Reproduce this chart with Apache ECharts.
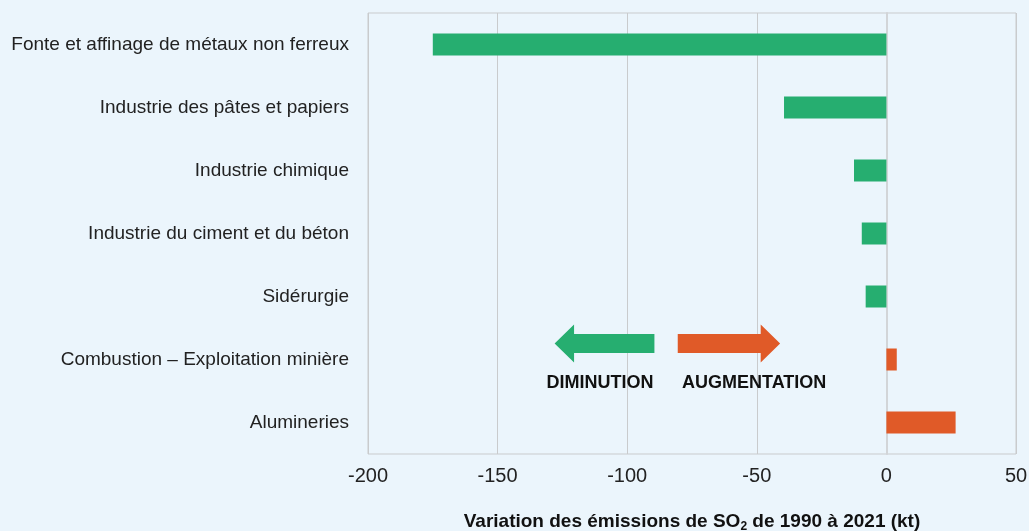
<!DOCTYPE html>
<html>
<head>
<meta charset="utf-8">
<script src="https://cdn.jsdelivr.net/npm/echarts@6/dist/echarts.min.js"></script>
<style>
  html, body { margin: 0; padding: 0; background: #ebf5fc; }
</style>
</head>
<body>
<div id="chart" style="width: 1029px; height: 531px"></div>
<script>
const categories = [
  'Fonte et affinage de métaux non ferreux',
  'Industrie des pâtes et papiers',
  'Industrie chimique',
  'Industrie du ciment et du béton',
  'Sidérurgie',
  'Combustion – Exploitation minière',
  'Alumineries'
]
const variation = [-175, -39.5, -12.5, -9.5, -8, 4, 26.7]
const xTicks = [-200, -150, -100, -50, 0, 50]

const GREEN = '#26ae70'
const ORANGE = '#e05a28'
const FONT = '"Liberation Sans", Arial, sans-serif'

const chart = echarts.init(document.getElementById('chart'))

chart.setOption({
  backgroundColor: '#ebf5fc',
  animation: false,
  grid: {
    left: 368, right: 13, top: 13, bottom: 77,
    containLabel: false,
    outerBoundsMode: 'none',
    show: true,
    borderColor: '#c9cbcd',
    borderWidth: 1,
    backgroundColor: '#ebf5fc'
  },
  xAxis: {
    type: 'value',
    min: xTicks[0],
    max: xTicks[xTicks.length - 1],
    interval: 50,
    axisLine: { show: false },
    axisTick: { show: false },
    splitLine: { lineStyle: { color: '#c9cbcd', width: 1 } },
    axisLabel: { color: '#222', fontFamily: FONT, fontSize: 20, margin: 12 },
    name: '{b|Variation des émissions de SO}{s|2}{b| de 1990 à 2021 (kt)}',
    nameLocation: 'middle',
    nameGap: 57,
    nameTextStyle: {
      rich: {
        b: { fontFamily: FONT, fontSize: 19, fontWeight: 'bold', color: '#111' },
        s: { fontFamily: FONT, fontSize: 12, fontWeight: 'bold', color: '#111', padding: [10, 0, 0, 0] }
      }
    }
  },
  yAxis: {
    type: 'category',
    data: categories,
    inverse: true,
    axisLine: { show: true, lineStyle: { color: '#d2d5d8', width: 2 } },
    axisTick: { show: false },
    axisLabel: { color: '#222', fontFamily: FONT, fontSize: 19, margin: 19 }
  },
  series: [{
    type: 'bar',
    data: variation.map(v => ({
      value: v,
      itemStyle: { color: v < 0 ? GREEN : ORANGE }
    })),
    barWidth: 22
  }]
})

// flèches d'annotation placées en coordonnées de l'axe
const arrowY = chart.convertToPixel({ gridIndex: 0 }, [0, 5])[1] - 16
const px = v => chart.convertToPixel({ gridIndex: 0 }, [v, 0])[0]
const arrow = (tip, base, end) => [
  [tip, arrowY], [base, arrowY - 19], [base, arrowY - 9.5], [end, arrowY - 9.5],
  [end, arrowY + 9.5], [base, arrowY + 9.5], [base, arrowY + 19]
]
const gTip = px(-128), gBase = px(-120.5), gEnd = px(-89.5)
const oStart = px(-80.5), oBase = px(-48.5), oTip = px(-41)
const labelStyle = { fontFamily: FONT, fontSize: 18, fontWeight: 'bold', fill: '#111', align: 'center', verticalAlign: 'middle' }
chart.setOption({
  graphic: [
    { type: 'polygon', shape: { points: arrow(gTip, gBase, gEnd) }, style: { fill: GREEN } },
    { type: 'polygon', shape: { points: arrow(oTip, oBase, oStart) }, style: { fill: ORANGE } },
    { type: 'text', x: px(-110.5), y: arrowY + 40, style: Object.assign({ text: 'DIMINUTION' }, labelStyle) },
    { type: 'text', x: px(-51), y: arrowY + 40, style: Object.assign({ text: 'AUGMENTATION' }, labelStyle) }
  ]
})
</script>
</body>
</html>
